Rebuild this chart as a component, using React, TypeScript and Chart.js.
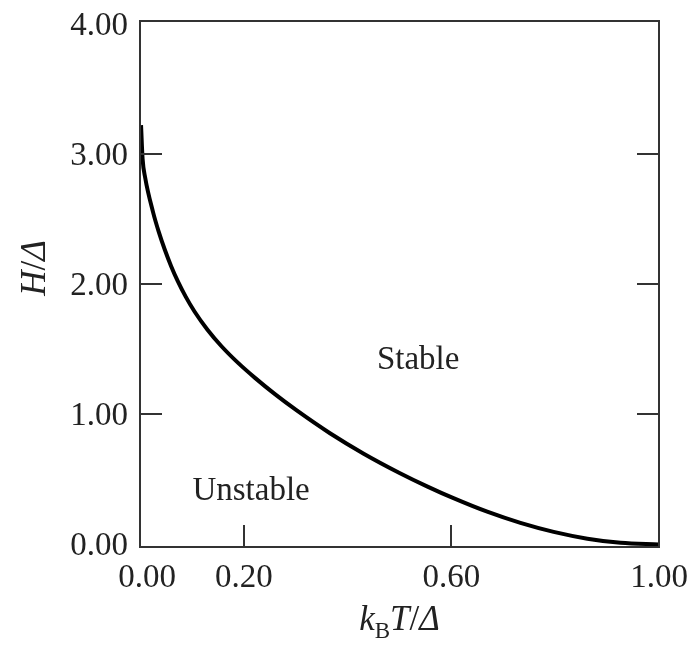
import { useEffect, useRef } from "react";
import { Chart, registerables } from "chart.js";

Chart.register(...registerables);

// Phase boundary: reduced field H/Δ against reduced temperature k_B T/Δ
const kTValues = [0.002, 0.005, 0.01, 0.025, 0.036, 0.048, 0.06, 0.073, 0.088, 0.105, 0.13, 0.157, 0.189, 0.221, 0.26, 0.302, 0.366, 0.431, 0.5, 0.553, 0.604, 0.669, 0.733, 0.797, 0.862, 0.926, 1.0];
const hValues = [3.22, 2.96, 2.816, 2.554, 2.402, 2.261, 2.137, 2.02, 1.903, 1.789, 1.649, 1.522, 1.394, 1.281, 1.154, 1.029, 0.854, 0.697, 0.549, 0.446, 0.355, 0.251, 0.165, 0.096, 0.044, 0.012, 0];

// Axis annotations
const xTickLabels = [0, 0.2, 0.6, 1.0];
const xTickMarks = [0.2, 0.6];
const yTickLabels = [0, 1, 2, 3, 4];
const yTickMarks = [1, 2, 3];

// Region names placed in data coordinates
const regionNames = ["Stable", "Unstable"];
const regionX = [0.536, 0.214];
const regionY = [1.43, 0.425];

const SERIF = '"Liberation Serif", "Times New Roman", serif';
const INK = "#222";

type Run = { t: string; font: string; dy: number };

function drawRuns(ctx: CanvasRenderingContext2D, runs: Run[], cx: number, baseline: number) {
  let total = 0;
  const widths = runs.map((r) => {
    ctx.font = r.font;
    const w = ctx.measureText(r.t).width;
    total += w;
    return w;
  });
  let x = cx - total / 2;
  ctx.textAlign = "left";
  ctx.textBaseline = "alphabetic";
  runs.forEach((r, i) => {
    ctx.font = r.font;
    ctx.fillText(r.t, x, baseline + r.dy);
    x += widths[i];
  });
}

const framePlugin = {
  id: "frameAndLabels",
  afterDraw(chart: any) {
    const ctx: CanvasRenderingContext2D = chart.ctx;
    const { left, right, top, bottom } = chart.chartArea;
    const xs = chart.scales.x;
    const ys = chart.scales.y;
    const tickLen = 22;

    ctx.save();
    // plot frame
    ctx.strokeStyle = "#333";
    ctx.lineWidth = 2;
    ctx.strokeRect(left, top, right - left, bottom - top);

    // inward tick marks
    ctx.beginPath();
    yTickMarks.forEach((v) => {
      const py = Math.round(ys.getPixelForValue(v));
      ctx.moveTo(left, py);
      ctx.lineTo(left + tickLen, py);
      ctx.moveTo(right, py);
      ctx.lineTo(right - tickLen, py);
    });
    xTickMarks.forEach((v) => {
      const px = Math.round(xs.getPixelForValue(v));
      ctx.moveTo(px, bottom);
      ctx.lineTo(px, bottom - tickLen);
    });
    ctx.stroke();

    // tick labels
    ctx.fillStyle = INK;
    ctx.font = `33px ${SERIF}`;
    ctx.textBaseline = "alphabetic";
    ctx.textAlign = "right";
    yTickLabels.forEach((v) => {
      ctx.fillText(v.toFixed(2), left - 12, ys.getPixelForValue(v) + 11);
    });
    ctx.textAlign = "center";
    xTickLabels.forEach((v, i) => {
      const shift = i === 0 ? 7 : 0;
      ctx.fillText(v.toFixed(2), xs.getPixelForValue(v) + shift, bottom + 40);
    });

    // region names
    regionNames.forEach((name, i) => {
      ctx.fillText(name, xs.getPixelForValue(regionX[i]), ys.getPixelForValue(regionY[i]) + 11);
    });

    // x axis title: k_B T/Δ
    const it = `italic 35px ${SERIF}`;
    const up = `35px ${SERIF}`;
    drawRuns(
      ctx,
      [
        { t: "k", font: it, dy: 0 },
        { t: "B", font: `23px ${SERIF}`, dy: 8 },
        { t: "T", font: it, dy: 0 },
        { t: "/", font: up, dy: 0 },
        { t: "Δ", font: it, dy: 0 },
      ],
      (left + right) / 2,
      630
    );

    // y axis title: H/Δ
    ctx.translate(45, 268);
    ctx.rotate(-Math.PI / 2);
    drawRuns(
      ctx,
      [
        { t: "H", font: it, dy: 0 },
        { t: "/", font: up, dy: 0 },
        { t: "Δ", font: it, dy: 0 },
      ],
      0,
      0
    );
    ctx.restore();
  },
};

export default function App() {
  const canvasRef = useRef<HTMLCanvasElement | null>(null);

  useEffect(() => {
    const canvas = canvasRef.current;
    if (!canvas) return;
    const points = kTValues.map((x, i) => ({ x, y: hValues[i] }));
    const chart = new Chart(canvas, {
      type: "line",
      data: {
        datasets: [
          {
            data: points,
            borderColor: "#000",
            borderWidth: 4,
            pointRadius: 0,
            cubicInterpolationMode: "monotone",
            fill: false,
          },
        ],
      },
      options: {
        animation: false,
        responsive: false,
        devicePixelRatio: 1,
        layout: { padding: { left: 140, right: 34, top: 21, bottom: 98 } },
        plugins: { legend: { display: false }, tooltip: { enabled: false } },
        scales: {
          x: { type: "linear", min: 0, max: 1, display: false },
          y: { type: "linear", min: -0.02, max: 4.02, display: false },
        },
      },
      plugins: [framePlugin],
    });
    return () => chart.destroy();
  }, []);

  return (
    <div style={{ position: "absolute", left: 0, top: 0, width: 693, height: 645, background: "#fff" }}>
      <canvas ref={canvasRef} width={693} height={645} style={{ display: "block" }} />
    </div>
  );
}
